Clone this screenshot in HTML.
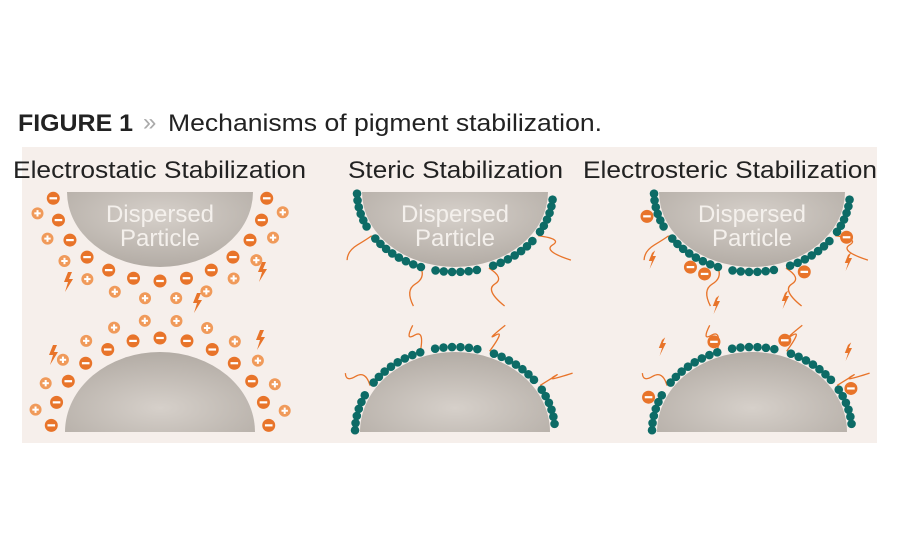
<!DOCTYPE html>
<html><head><meta charset="utf-8"><style>
html,body{margin:0;padding:0;background:#fff;}
svg{display:block;}
</style></head><body>
<svg id="s" width="900" height="550" viewBox="0 0 900 550" xmlns="http://www.w3.org/2000/svg">
<defs>
<radialGradient id="gt" cx="0.5" cy="0.3" r="0.7"><stop offset="0" stop-color="#d6d0ca"/><stop offset="1" stop-color="#b3aca5"/></radialGradient>
<radialGradient id="gb" cx="0.5" cy="0.7" r="0.7"><stop offset="0" stop-color="#d6d0ca"/><stop offset="1" stop-color="#b3aca5"/></radialGradient>
</defs>
<rect x="22" y="147" width="855" height="296" fill="#f6efeb"/>
<text x="18" y="131" font-family="Liberation Sans, sans-serif" font-size="24" font-weight="bold" fill="#222" textLength="115" lengthAdjust="spacingAndGlyphs">FIGURE 1</text>
<text x="143" y="130" font-family="Liberation Sans, sans-serif" font-size="24" fill="#aaa">»</text>
<text x="168" y="131" font-family="Liberation Sans, sans-serif" font-size="24" fill="#222" textLength="434" lengthAdjust="spacingAndGlyphs">Mechanisms of pigment stabilization.</text>
<g font-family="Liberation Sans, sans-serif" font-size="24" fill="#222">
<text x="13" y="178" textLength="293" lengthAdjust="spacingAndGlyphs">Electrostatic Stabilization</text>
<text x="348" y="178" textLength="215" lengthAdjust="spacingAndGlyphs">Steric Stabilization</text>
<text x="583" y="178" textLength="294" lengthAdjust="spacingAndGlyphs">Electrosteric Stabilization</text>
</g>
<g id="g"></g>
</svg>
<script>
var g=document.getElementById('g'),NS='http://www.w3.org/2000/svg';
function el(t,a){var e=document.createElementNS(NS,t);for(var k in a)e.setAttribute(k,a[k]);g.appendChild(e);return e;}
var cxs=[160,455,752];
var TY=192,RX=93,RY=75,BY=432,BRX=95,BRY=80;
function particles(cx){
 el('path',{d:'M'+(cx-RX)+' '+TY+' A'+RX+' '+RY+' 0 0 0 '+(cx+RX)+' '+TY+' Z',fill:'url(#gt)'});
 el('path',{d:'M'+(cx-BRX)+' '+BY+' A'+BRX+' '+BRY+' 0 0 1 '+(cx+BRX)+' '+BY+' Z',fill:'url(#gb)'});
 var t=el('text',{x:cx,y:222,'text-anchor':'middle','font-family':'Liberation Sans, sans-serif','font-size':'24',fill:'#f4f0ec'});t.textContent='Dispersed';
 t=el('text',{x:cx,y:246,'text-anchor':'middle','font-family':'Liberation Sans, sans-serif','font-size':'24',fill:'#f4f0ec'});t.textContent='Particle';
}
function tp(cx,a,d){return [cx+(RX+d)*Math.sin(a), TY+(RY+d)*Math.cos(a)];}
function bp(cx,a,d){return [cx+(BRX+d)*Math.sin(a), BY-(BRY+d)*Math.cos(a)];}
function ion(p,neg){
 el('circle',{cx:p[0],cy:p[1],r:neg?6.5:6,fill:neg?'#e8742a':'#f09a5a'});
 if(neg)el('rect',{x:p[0]-3.8,y:p[1]-1.1,width:7.6,height:2.2,fill:'#fff'});
 else{el('rect',{x:p[0]-3.2,y:p[1]-1,width:6.4,height:2,fill:'#fff'});el('rect',{x:p[0]-1,y:p[1]-3.2,width:2,height:6.4,fill:'#fff'});}
}
function bolt(x,y,s){s=s||1;
 el('path',{d:'M'+x+' '+y+' l'+(-4*s)+' '+(10*s)+' l'+(4*s)+' 0 l'+(-3*s)+' '+(10*s)+' l'+(8*s)+' -13 l'+(-4*s)+' 0 l'+(3*s)+' '+(-7*s)+' Z',fill:'#e8742a'});
}
particles(cxs[0]);particles(cxs[1]);particles(cxs[2]);
var cx=cxs[0],a;
for(a=-1.5;a<=1.51;a+=0.25){ion(tp(cx,a,14),true);}
for(a=-1.37;a<=1.38;a+=0.25){ion(tp(cx,a,32),false);}
for(a=-1.5;a<=1.51;a+=0.25){ion(bp(cx,a,14),true);}
for(a=-1.37;a<=1.38;a+=0.25){ion(bp(cx,a,32),false);}
bolt(68,272);bolt(262,262);bolt(197,293);bolt(260,330);bolt(53,345);
function beads(cx,fn,ranges,tails,charges){
 tails.forEach(function(a){var p=fn(cx,a,6),q=fn(cx,a,40);var mx=(p[0]+q[0])/2,my=(p[1]+q[1])/2;
  el('path',{d:'M'+p[0]+' '+p[1]+' Q'+(mx+10)+' '+(my-6)+' '+mx+' '+my+' T'+(q[0]+4)+' '+(q[1]+6),fill:'none',stroke:'#e8742a','stroke-width':1.3});});
 ranges.forEach(function(r){for(var a=r[0];a<=r[1]+0.001;a+=0.085){var p=fn(cx,a,5);el('circle',{cx:p[0],cy:p[1],r:4.3,fill:'#0d6b66'});}});
 (charges||[]).forEach(function(a){var p=fn(cx,a,16);ion(p,true);});
}
var R=[[-1.55,-1.05],[-0.95,-0.3],[-0.2,0.3],[0.4,0.95],[1.05,1.55]];
var T=[-1.0,-0.35,0.35,1.0];
beads(cxs[1],tp,R,T);beads(cxs[1],bp,R,T);
beads(cxs[2],tp,R,T,[-1.3,-0.6,-0.45,0.5,1.05]);beads(cxs[2],bp,R,T,[-1.2,-0.35,0.3,1.1]);
var bx=[[652,253],[716,298],[785,293],[848,255],[662,340],[848,345]];
bx.forEach(function(b){bolt(b[0],b[1],0.8);});
</script>
</body></html>
